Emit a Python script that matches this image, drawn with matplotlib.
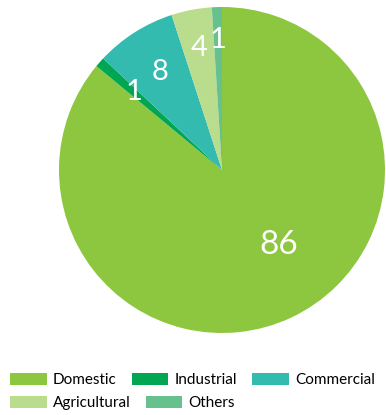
import numpy as np
import matplotlib
matplotlib.use("Agg")
import matplotlib.pyplot as plt
from matplotlib.patches import Patch

categories = ["Domestic", "Industrial", "Commercial", "Agricultural", "Others"]
values = [86, 1, 8, 4, 1]
colors = ["#8DC63F", "#00A651", "#33BBAF", "#B9DD8C", "#66C18F"]

# radial distance and angle nudge for each value label
label_dist = [0.58, 0.72, 0.71, 0.76, 0.80]
label_shift = [12, 0, 0, 0, 0]
label_size = [24, 21, 21, 21, 21]

W, H = 386, 415
fig = plt.figure(figsize=(W / 100, H / 100), dpi=100)

cx, cy, r = 222, 170, 163
ax = fig.add_axes([(cx - r) / W, (H - cy - r) / H, 2 * r / W, 2 * r / H])
ax.pie(values, colors=colors, startangle=90, counterclock=False,
       wedgeprops=dict(linewidth=0))
ax.set_xlim(-1, 1)
ax.set_ylim(-1, 1)
ax.set_aspect("equal")
ax.axis("off")

total = sum(values)
start = 90.0
for v, d, s, fs in zip(values, label_dist, label_shift, label_size):
    span = 360.0 * v / total
    mid = np.radians(start - span / 2 + s)
    ax.text(d * np.cos(mid), d * np.sin(mid), str(v), color="white",
            fontsize=fs, ha="center", va="center", family="Lato")
    start -= span

handles = [Patch(facecolor=c, edgecolor="none") for c in colors]
kw = dict(frameon=False, handlelength=2.4, handleheight=0.9,
          handletextpad=0.4, columnspacing=1.0, borderpad=0, borderaxespad=0,
          loc="center left", prop={"family": "Lato", "size": 11})
leg1 = fig.legend(handles[:3], categories[:3], ncol=3,
                  bbox_to_anchor=(10 / W, 1 - 380 / H), **kw)
leg2 = fig.legend(handles[3:], categories[3:], ncol=2,
                  bbox_to_anchor=(10 / W, 1 - 403 / H), **kw)

fig.savefig("out.png", dpi=100)
